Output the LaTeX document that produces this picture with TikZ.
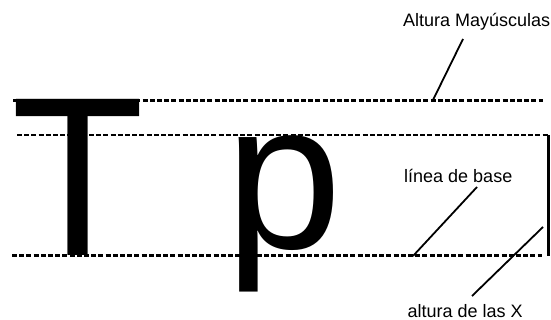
\documentclass[tikz,border=0pt]{standalone}
\usepackage{fontspec}
\setmainfont{Liberation Sans}
\begin{document}
\begin{tikzpicture}[x=1pt,y=-1pt,
  guide/.style={line width=2.5pt,dash pattern=on 5pt off 2.2pt},
  leader/.style={line width=1.8pt},
  lbl/.style={inner sep=0pt,anchor=base west,font=\fontsize{18}{18}\selectfont},
  big/.style={inner sep=0pt,anchor=base west}]
\useasboundingbox[fill=white] (0,0) rectangle (551,320);
% big letters
\node[big,font=\fontsize{227}{227}\selectfont] (T) at (11,255) {\scalebox{0.96}[1]{T}};
\node[big,font=\fontsize{210}{210}\selectfont] (p) at (225,248.5) {p};
% guide lines
\coordinate (capL) at (13,100.5);
\coordinate (capR) at (543,100.5);
\coordinate (xL) at (17,135);
\coordinate (xR) at (548.5,135);
\coordinate (bL) at (12,255.5);
\coordinate (bR) at (542,255.5);
\coordinate (barB) at (548.5,256);
\draw[guide] (capL) -- (capR);
\draw[guide] (xL) -- (xR);
\draw[guide] (bL) -- (bR);
\draw[line width=2.2pt] (xR) -- (barB);
% labels
\node[lbl] (cap) at (403,27) {Altura Mayúsculas};
\node[lbl] (base) at (404,183) {línea de base};
\node[lbl] (xh) at (407.5,317) {altura de las X};
% leaders
\coordinate (c1) at (463,39);
\coordinate (c2) at (433,100);
\coordinate (b1) at (477,187);
\coordinate (b2) at (413,256);
\coordinate (x1) at (543,227);
\coordinate (x2) at (472,296);
\draw[leader] (c1) -- (c2);
\draw[leader] (b1) -- (b2);
\draw[leader] (x1) -- (x2);
\end{tikzpicture}
\end{document}
